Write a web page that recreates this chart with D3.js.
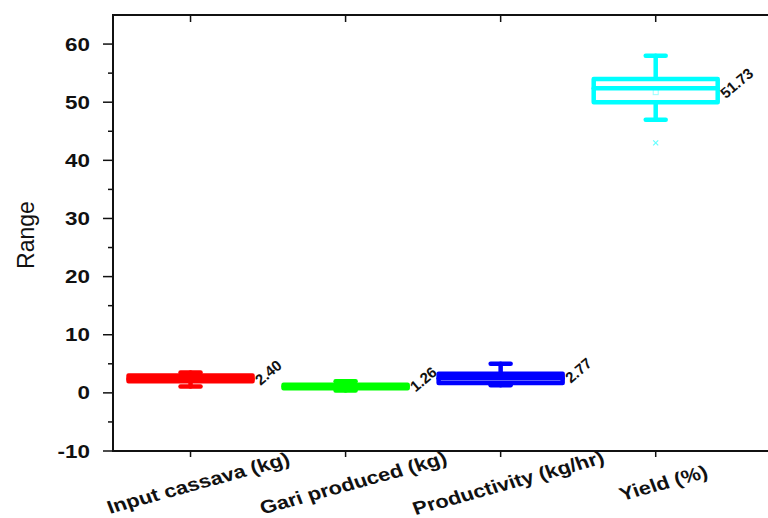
<!DOCTYPE html>
<html>
<head>
<meta charset="utf-8">
<script src="https://cdn.jsdelivr.net/npm/d3@7"></script>
<style>
  body { margin: 0; background: #fff; }
  text { font-family: Arial, "Liberation Sans", sans-serif; }
</style>
</head>
<body>
<svg id="chart" width="768" height="518"></svg>
<script>
// categories and box statistics
const categories = ["Input cassava (kg)", "Gari produced (kg)", "Productivity (kg/hr)", "Yield (%)"];
const colors = ["#ff0000", "#00ff00", "#0000ff", "#00ffff"];
const whiskerLow = [1.1, 0.4, 1.3, 47];
const q1 = [2.0, 0.8, 1.7, 50];
const median = [2.4, 1.1, 2.5, 52.4];
const q3 = [3.0, 1.4, 3.3, 54];
const whiskerHigh = [3.5, 2.0, 5.0, 58];
const means = [2.40, 1.26, 2.77, 51.73];
const outliers = [[], [], [], [43]];
const yTicks = [-10, 0, 10, 20, 30, 40, 50, 60];

const svg = d3.select("#chart");
const plotLeft = 113, plotRight = 772, plotTop = 15, plotBottom = 451;
// the source picture is a bit stretched sideways, so text is widened
const stretch = 1.18;

// x goes over category index, y over the value
const x = d3.scaleLinear().domain([0.5, 4.75]).range([plotLeft, plotRight]);
const y = d3.scaleLinear().domain([-10, 65]).range([plotBottom, plotTop]);

// frame
svg.append("rect")
  .attr("x", plotLeft).attr("y", plotTop)
  .attr("width", plotRight - plotLeft).attr("height", plotBottom - plotTop)
  .attr("fill", "none").attr("stroke", "#111").attr("stroke-width", 2);

// left axis, major + minor ticks
const g = svg.append("g");
yTicks.forEach(function (t) {
  g.append("line").attr("x1", plotLeft - 10).attr("x2", plotLeft)
    .attr("y1", y(t)).attr("y2", y(t)).attr("stroke", "#111").attr("stroke-width", 1.5);
  g.append("text")
    .attr("transform", "translate(" + (plotLeft - 23) + "," + (y(t) + 6.5) + ") scale(" + stretch + ",1)")
    .attr("text-anchor", "end").attr("font-size", 19).attr("font-weight", "bold")
    .attr("fill", "#111").text(t);
});
d3.range(-5, 65, 10).forEach(function (t) {
  g.append("line").attr("x1", plotLeft - 5).attr("x2", plotLeft)
    .attr("y1", y(t)).attr("y2", y(t)).attr("stroke", "#111").attr("stroke-width", 1.5);
});

// right axis ticks (mostly off the picture)
yTicks.forEach(function (t) {
  g.append("line").attr("x1", plotRight - 4).attr("x2", plotRight)
    .attr("y1", y(t)).attr("y2", y(t)).attr("stroke", "#bbb").attr("stroke-width", 1.5);
});

// category ticks, bottom outward and top inward
categories.forEach(function (c, i) {
  g.append("line").attr("x1", x(i + 1)).attr("x2", x(i + 1))
    .attr("y1", plotBottom).attr("y2", plotBottom + 6).attr("stroke", "#111").attr("stroke-width", 1.5);
  g.append("line").attr("x1", x(i + 1)).attr("x2", x(i + 1))
    .attr("y1", plotTop).attr("y2", plotTop + 7).attr("stroke", "#111").attr("stroke-width", 1.5);
  g.append("text")
    .attr("transform", "translate(" + (x(i + 1) + 10) + "," + 489 + ") scale(" + stretch + ",1) rotate(-18)")
    .attr("text-anchor", "middle").attr("font-size", 18.5).attr("font-weight", "bold")
    .attr("fill", "#111").text(c);
});

// y title
svg.append("text")
  .attr("transform", "translate(34,235) rotate(-90)")
  .attr("text-anchor", "middle").attr("font-size", 23).attr("fill", "#111")
  .text("Range");

// boxes
const boxW = 124, capW = 20;
categories.forEach(function (c, i) {
  const cx = x(i + 1), col = colors[i];
  const bg = svg.append("g").attr("stroke", col).attr("stroke-width", 4.5)
    .attr("stroke-linecap", "round").attr("stroke-linejoin", "round");
  // whiskers
  bg.append("line").attr("x1", cx).attr("x2", cx).attr("y1", y(q3[i])).attr("y2", y(whiskerHigh[i]));
  bg.append("line").attr("x1", cx).attr("x2", cx).attr("y1", y(q1[i])).attr("y2", y(whiskerLow[i]));
  bg.append("line").attr("x1", cx - capW / 2).attr("x2", cx + capW / 2)
    .attr("y1", y(whiskerHigh[i])).attr("y2", y(whiskerHigh[i]));
  bg.append("line").attr("x1", cx - capW / 2).attr("x2", cx + capW / 2)
    .attr("y1", y(whiskerLow[i])).attr("y2", y(whiskerLow[i]));
  // box
  bg.append("rect").attr("x", cx - boxW / 2).attr("y", y(q3[i]))
    .attr("width", boxW).attr("height", y(q1[i]) - y(q3[i]))
    .attr("fill", "#fff");
  bg.append("line").attr("x1", cx - boxW / 2).attr("x2", cx + boxW / 2)
    .attr("y1", y(median[i])).attr("y2", y(median[i]));
  // mean marker
  svg.append("rect").attr("x", cx - 2.5).attr("y", y(means[i]) - 2.5)
    .attr("width", 5).attr("height", 5).attr("fill", "none")
    .attr("stroke", d3.color(col).brighter(0.6)).attr("stroke-opacity", 0.4).attr("stroke-width", 1);
  // outliers
  outliers[i].forEach(function (o) {
    const oy = y(o);
    svg.append("path")
      .attr("d", "M" + (cx - 2.5) + "," + (oy - 2.5) + "L" + (cx + 2.5) + "," + (oy + 2.5) +
                 "M" + (cx - 2.5) + "," + (oy + 2.5) + "L" + (cx + 2.5) + "," + (oy - 2.5))
      .attr("stroke", col).attr("stroke-opacity", 0.6).attr("stroke-width", 1.2);
  });
  // mean value label
  svg.append("text")
    .attr("transform", "translate(" + (cx + boxW / 2 + 8) + "," + (y(means[i]) + 7) + ") rotate(-40)")
    .attr("font-size", 15).attr("font-weight", "bold").attr("fill", "#111")
    .text(means[i].toFixed(2));
});
</script>
</body>
</html>
